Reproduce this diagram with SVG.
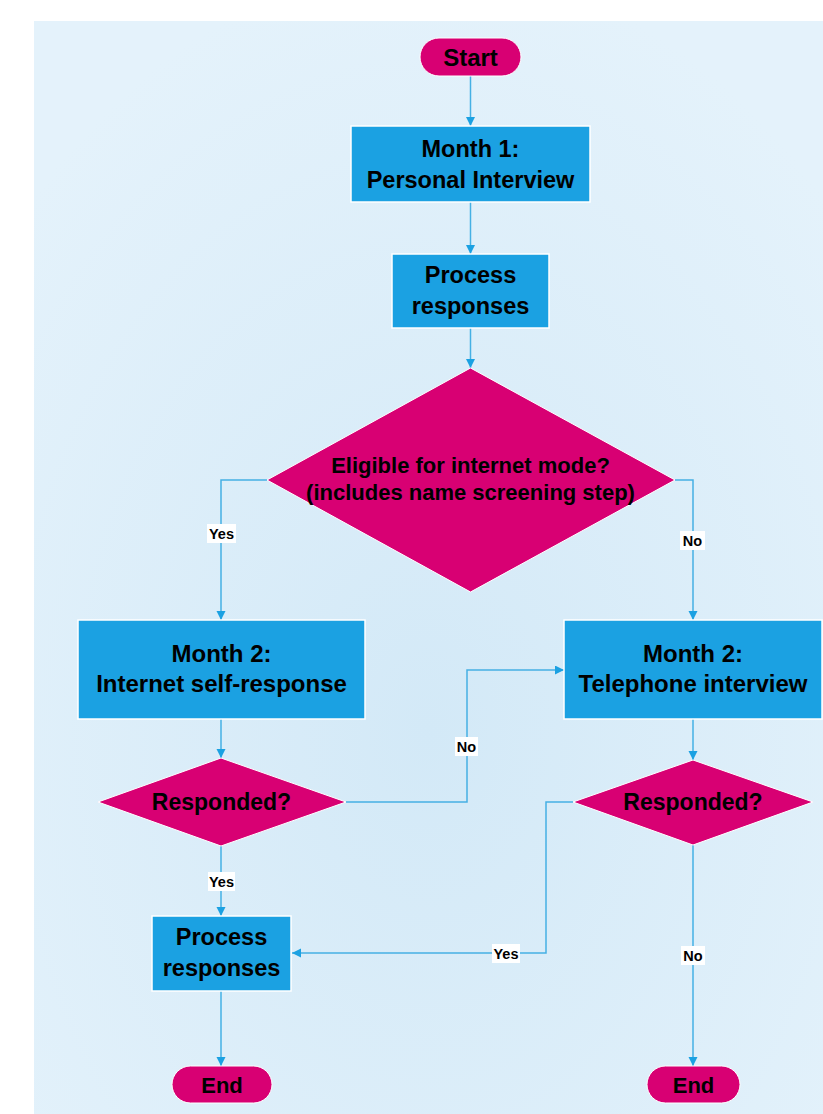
<svg xmlns="http://www.w3.org/2000/svg" width="823" height="1114" viewBox="0 0 823 1114">
<style>
.box{fill:#1ba1e2;stroke:#ffffff;stroke-width:1.5}
.dia{fill:#d80073;stroke:#ffffff;stroke-width:1}
.t{font-family:"Liberation Sans",Arial,sans-serif;font-weight:bold;fill:#000;text-anchor:middle}
.lbl{font-family:"Liberation Sans",Arial,sans-serif;font-weight:bold;font-size:14.5px;fill:#000;text-anchor:middle}
.lblbg{fill:#ffffff}
.c{fill:none;stroke:#45b0e4;stroke-width:1.5}
</style>
<defs>
<radialGradient id="bg" cx="50%" cy="65%" r="70%">
<stop offset="0" stop-color="#d3e9f7"/>
<stop offset="1" stop-color="#e4f2fb"/>
</radialGradient>
<marker id="arr" markerUnits="userSpaceOnUse" markerWidth="10" markerHeight="10" refX="9" refY="4.5" orient="auto">
<path d="M0,0 L9,4.5 L0,9 z" fill="#1ba1e2"/>
</marker>
</defs>
<rect x="0" y="0" width="823" height="1114" fill="#ffffff"/>
<rect x="34" y="21" width="789" height="1093" fill="url(#bg)"/>

<g id="connectors">
<path class="c" d="M470.5,76 V126" marker-end="url(#arr)"/>
<path class="c" d="M470.5,202 V254" marker-end="url(#arr)"/>
<path class="c" d="M470.5,328 V368" marker-end="url(#arr)"/>
<path class="c" d="M267,480 H221 V620" marker-end="url(#arr)"/>
<path class="c" d="M675,480 H693 V620" marker-end="url(#arr)"/>
<path class="c" d="M221,719 V758" marker-end="url(#arr)"/>
<path class="c" d="M346,802 H467 V670 H564" marker-end="url(#arr)"/>
<path class="c" d="M693,719 V760" marker-end="url(#arr)"/>
<path class="c" d="M573,802 H546 V953 H292" marker-end="url(#arr)"/>
<path class="c" d="M221,846 V916" marker-end="url(#arr)"/>
<path class="c" d="M221,991 V1066" marker-end="url(#arr)"/>
<path class="c" d="M693,845 V1066" marker-end="url(#arr)"/>
<g id="labels">
<rect class="lblbg" x="207" y="524" width="29" height="19"/><text class="lbl" x="221.5" y="539">Yes</text>
<rect class="lblbg" x="680" y="531" width="25" height="19"/><text class="lbl" x="692.5" y="546">No</text>
<rect class="lblbg" x="455" y="737" width="23" height="19"/><text class="lbl" x="466.5" y="752">No</text>
<rect class="lblbg" x="492" y="944" width="28" height="19"/><text class="lbl" x="506" y="959">Yes</text>
<rect class="lblbg" x="208" y="872" width="27" height="19"/><text class="lbl" x="221.5" y="887">Yes</text>
<rect class="lblbg" x="681" y="946" width="24" height="19"/><text class="lbl" x="693" y="961">No</text>
</g>
</g>

<g id="start">
<rect class="dia" x="420" y="38" width="101" height="38" rx="19"/>
<text class="t" x="470.5" y="65.5" font-size="24">Start</text>
</g>
<g id="month1">
<rect class="box" x="351" y="126" width="239" height="76"/>
<text class="t" x="470.5" y="157" font-size="23.5">Month 1:</text>
<text class="t" x="470.5" y="188" font-size="23.5">Personal Interview</text>
</g>
<g id="process1">
<rect class="box" x="392" y="254" width="157" height="74"/>
<text class="t" x="470.5" y="283" font-size="23.5">Process</text>
<text class="t" x="470.5" y="314" font-size="23.5">responses</text>
</g>
<g id="eligible">
<polygon class="dia" points="470.5,368 675,480 470.5,592 267,480"/>
<text class="t" x="470.5" y="473" font-size="22">Eligible for internet mode?</text>
<text class="t" x="470.5" y="500" font-size="22">(includes name screening step)</text>
</g>
<g id="internet">
<rect class="box" x="78" y="620" width="287" height="99"/>
<text class="t" x="221.5" y="662" font-size="24">Month 2:</text>
<text class="t" x="221.5" y="692" font-size="24">Internet self-response</text>
</g>
<g id="telephone">
<rect class="box" x="564" y="620" width="258" height="99"/>
<text class="t" x="693" y="662" font-size="24">Month 2:</text>
<text class="t" x="693" y="692" font-size="24">Telephone interview</text>
</g>
<g id="responded1">
<polygon class="dia" points="221,758 346,802 221,846 98,802"/>
<text class="t" x="221.5" y="810" font-size="23">Responded?</text>
</g>
<g id="responded2">
<polygon class="dia" points="693,760 813,802 693,845 573,802"/>
<text class="t" x="693" y="810" font-size="23">Responded?</text>
</g>
<g id="process2">
<rect class="box" x="152" y="916" width="139" height="75"/>
<text class="t" x="221.5" y="945" font-size="23.5">Process</text>
<text class="t" x="221.5" y="976" font-size="23.5">responses</text>
</g>
<g id="end1">
<rect class="dia" x="172" y="1066" width="100" height="37" rx="18.5"/>
<text class="t" x="222" y="1093" font-size="22">End</text>
</g>
<g id="end2">
<rect class="dia" x="647" y="1066" width="93" height="37" rx="18.5"/>
<text class="t" x="693.5" y="1093" font-size="22">End</text>
</g>
</svg>
